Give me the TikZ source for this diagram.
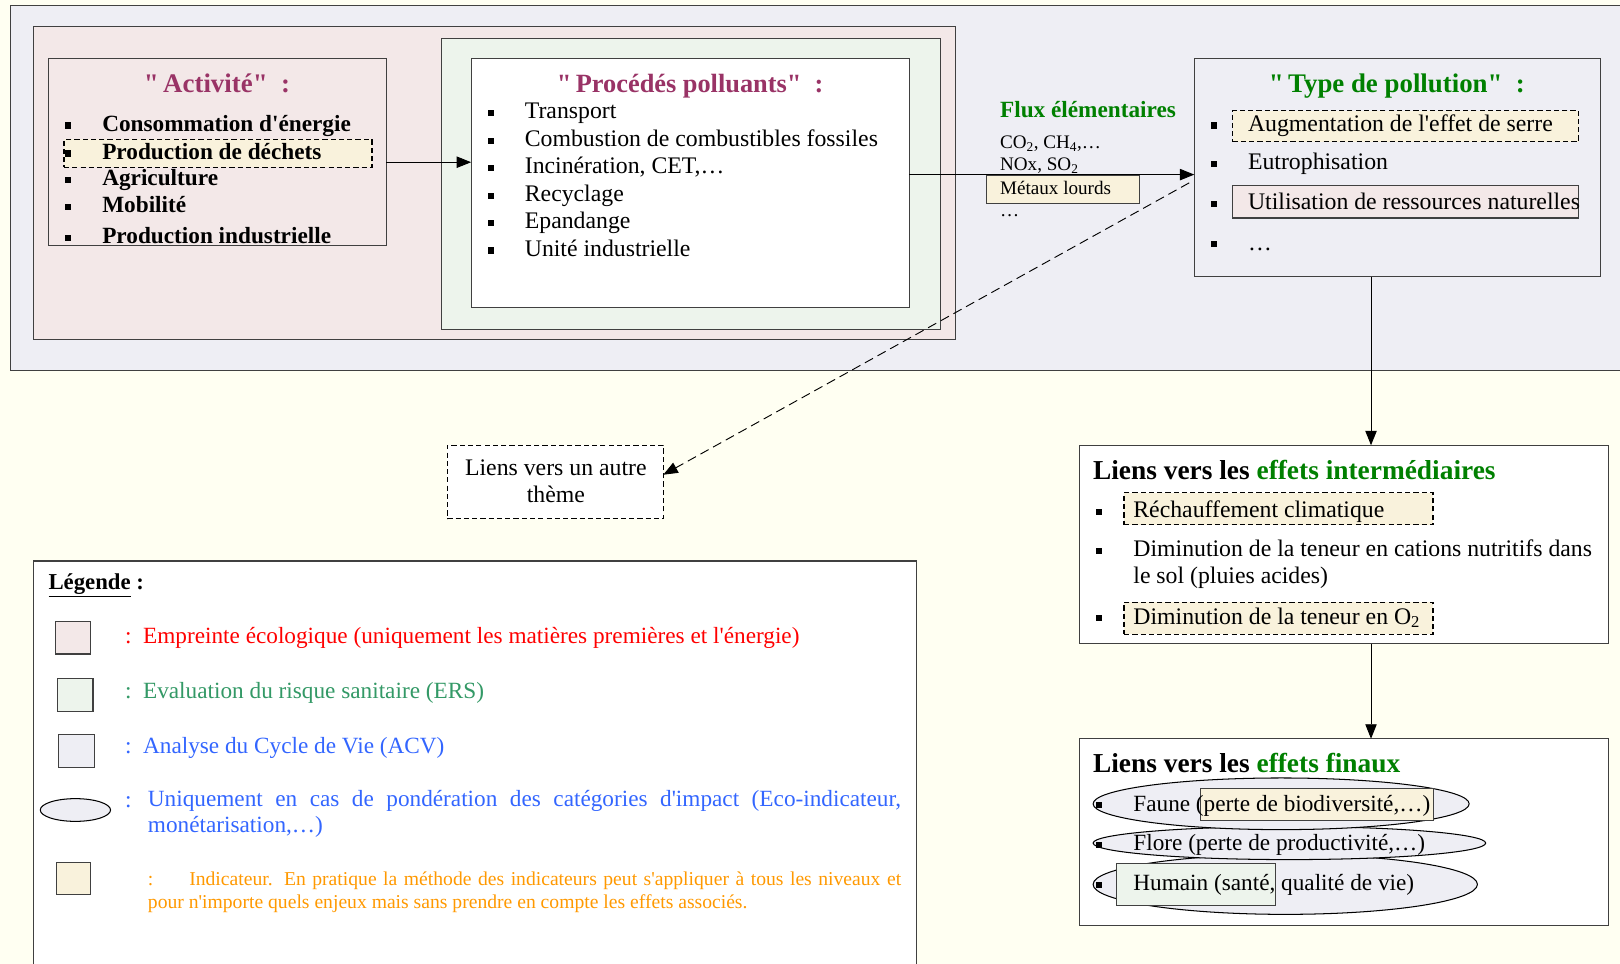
\documentclass[tikz,border=0pt]{standalone}
\usepackage{fontspec}
\setmainfont{Liberation Serif}[Ligatures=TeXOff]
\usetikzlibrary{arrows.meta,shapes.geometric}
\definecolor{bgcol}{HTML}{FFFFF2}
\definecolor{acvcol}{HTML}{EEEEF4}
\definecolor{pinkcol}{HTML}{F3E8E8}
\definecolor{greencol}{HTML}{EDF4EC}
\definecolor{yelcol}{HTML}{F9F2DC}
\definecolor{plum}{HTML}{993366}
\definecolor{dgreen}{HTML}{008000}
\definecolor{lgreen}{HTML}{339966}
\definecolor{lblue}{HTML}{3366FF}
\definecolor{lorange}{HTML}{FF9900}
\newcommand{\blsq}{\raisebox{2.5pt}{\rule{6pt}{6pt}}}
\newcommand{\fsz}[1]{\fontsize{#1}{#1}\selectfont}
\newcommand{\qq}{\symbol{34}}
\tikzset{
  box/.style={draw=black!75, line width=1pt, anchor=north west, inner sep=0pt, outer sep=0pt},
  dbox/.style={box, dash pattern=on 5pt off 3pt, line width=1.2pt, draw=black},
  txt/.style={anchor=base west, inner sep=0pt, outer sep=0pt},
  ctxt/.style={anchor=base, inner sep=0pt, outer sep=0pt},
  arr/.style={line width=0.9pt, -{Triangle[length=14pt,width=11pt]}},
}
\begin{document}
\begin{tikzpicture}[x=1pt,y=-1pt]
\useasboundingbox (0,0) rectangle (1568,933);
\clip (0,0) rectangle (1568,933);
\fill[bgcol] (0,0) rectangle (1568,933);

% ACV big box (open to the right)
\node[box, fill=acvcol, minimum width=1600pt, minimum height=354pt] (acv) at (10,5) {};
% Empreinte box
\node[box, fill=pinkcol, minimum width=893pt, minimum height=303pt] (emp) at (32,26) {};
% Activite box
\node[box, fill=pinkcol, minimum width=327pt, minimum height=181pt] (act) at (47,57) {};
% ERS box
\node[box, fill=greencol, minimum width=483pt, minimum height=282pt] (ers) at (427,37) {};
% Procedes box
\node[box, fill=white, minimum width=424pt, minimum height=241pt] (proc) at (456,57) {};
% Type box
\node[box, fill=acvcol, minimum width=393pt, minimum height=211pt] (tp) at (1156,57) {};

% Activite content
\node[ctxt, text=plum, font=\fsz{26}\bfseries] (acttitle) at (210,90) {\qq\,Activité\qq\ \ :};
\node[dbox, fill=yelcol, minimum width=298pt, minimum height=27pt] (hl1) at (62,135) {};
\begin{scope}
\clip (47,57) rectangle (374,238);
\node[txt, font=\fsz{22.5}\bfseries] (a1) at (63,127) {\makebox[36pt][l]{\blsq}Consommation d'énergie};
\node[txt, font=\fsz{22.5}\bfseries] (a2) at (63,154) {\makebox[36pt][l]{\blsq}Production de déchets};
\node[txt, font=\fsz{22.5}\bfseries] (a3) at (63,180) {\makebox[36pt][l]{\blsq}Agriculture};
\node[txt, font=\fsz{22.5}\bfseries] (a4) at (63,206) {\makebox[36pt][l]{\blsq}Mobilité};
\node[txt, font=\fsz{22.5}\bfseries] (a5) at (63,235.5) {\makebox[36pt][l]{\blsq}Production industrielle};
\end{scope}

% Procedes content
\node[ctxt, text=plum, font=\fsz{25.5}\bfseries] (proctitle) at (668,90) {\qq\,Procédés polluants\qq\ \ :};
\node[txt, font=\fsz{23}] (p1) at (472,115) {\makebox[36pt][l]{\blsq}Transport};
\node[txt, font=\fsz{23}] (p2) at (472,142) {\makebox[36pt][l]{\blsq}Combustion de combustibles fossiles};
\node[txt, font=\fsz{23}] (p3) at (472,168) {\makebox[36pt][l]{\blsq}Incinération, CET,\dots};
\node[txt, font=\fsz{23}] (p4) at (472,195) {\makebox[36pt][l]{\blsq}Recyclage};
\node[txt, font=\fsz{23}] (p5) at (472,221) {\makebox[36pt][l]{\blsq}Epandange};
\node[txt, font=\fsz{23}] (p6) at (472,248) {\makebox[36pt][l]{\blsq}Unité industrielle};

% Flux
\node[txt, text=dgreen, font=\fsz{22.5}\bfseries] (flux) at (968,114) {Flux élémentaires};
\node[txt, font=\fsz{18.5}] (f1) at (968,144) {CO\textsubscript{2}, CH\textsubscript{4},\dots};
\node[txt, font=\fsz{18.5}] (f2) at (968,165) {NOx, SO\textsubscript{2}};
\node[box, fill=yelcol, minimum width=148pt, minimum height=27pt] (met) at (955,170) {};
\node[txt, font=\fsz{18.5}] (f3) at (968,188) {Métaux lourds};
\node[txt, font=\fsz{18.5}] (f4) at (968,210) {\dots};

% Type content
\node[ctxt, text=dgreen, font=\fsz{26}\bfseries] (tptitle) at (1352,90) {\qq\,Type de pollution\qq\ \ :};
\node[dbox, fill=yelcol, minimum width=335pt, minimum height=30pt] (hl2) at (1193,107) {};
\node[box, fill=pinkcol, minimum width=335pt, minimum height=31pt] (hl3) at (1193,180) {};
\node[txt, font=\fsz{23}] (t1) at (1172,127) {\makebox[36pt][l]{\blsq}Augmentation de l'effet de serre};
\node[txt, font=\fsz{23}] (t2) at (1172,164) {\makebox[36pt][l]{\blsq}Eutrophisation};
\node[txt, font=\fsz{23}] (t3) at (1172,203) {\makebox[36pt][l]{\blsq}Utilisation de ressources naturelles};
\node[txt, font=\fsz{23}] (t4) at (1172,242) {\makebox[36pt][l]{\blsq}\dots};

% Liens vers un autre theme
\node[dbox, fill=white, minimum width=209pt, minimum height=71pt] (la) at (433,431) {};
\node[ctxt, font=\fsz{23}] (la1) at (538,460) {Liens vers un autre};
\node[ctxt, font=\fsz{23}] (la2) at (538,486) {thème};

% Effets intermediaires
\node[box, fill=white, minimum width=512pt, minimum height=192pt] (inter) at (1045,431) {};
\node[txt, font=\fsz{26.5}\bfseries] (it) at (1058,464) {Liens vers les \textcolor{dgreen}{effets intermédiaires}};
\node[dbox, fill=yelcol, minimum width=299pt, minimum height=31pt] (hl4) at (1088,477) {};
\node[dbox, fill=yelcol, minimum width=299pt, minimum height=31pt] (hl5) at (1088,583) {};
\node[txt, font=\fsz{23}] (i1) at (1061,501) {\makebox[36pt][l]{\blsq}Réchauffement climatique};
\node[txt, font=\fsz{23}] (i2) at (1061,539) {\makebox[36pt][l]{\blsq}Diminution de la teneur en cations nutritifs dans};
\node[txt, font=\fsz{23}] (i2b) at (1097,565) {le sol (pluies acides)};
\node[txt, font=\fsz{23}] (i3) at (1061,604) {\makebox[36pt][l]{\blsq}Diminution de la teneur en O\textsubscript{2}};

% Effets finaux
\node[box, fill=white, minimum width=512pt, minimum height=181pt] (fin) at (1045,715) {};
\node[txt, font=\fsz{26.5}\bfseries] (ft) at (1058,748) {Liens vers les \textcolor{dgreen}{effets finaux}};
\draw[fill=acvcol, line width=1pt] (1244,856) ellipse [x radius=186, y radius=29];
\draw[fill=acvcol, line width=1pt] (1248,816) ellipse [x radius=190, y radius=16];
\draw[fill=acvcol, line width=1pt] (1240,778) ellipse [x radius=182, y radius=25];
\node[box, fill=yelcol, minimum width=225pt, minimum height=31pt] (hl6) at (1162,763) {};
\node[box, fill=greencol, minimum width=154pt, minimum height=40pt] (hl7) at (1081,836) {};
\node[txt, font=\fsz{22.5}] (e1) at (1061,785) {\makebox[36pt][l]{\blsq}Faune (perte de biodiversité,\dots)};
\node[txt, font=\fsz{22.5}] (e2) at (1061,823) {\makebox[36pt][l]{\blsq}Flore (perte de productivité,\dots)};
\node[txt, font=\fsz{22.5}] (e3) at (1061,862) {\makebox[36pt][l]{\blsq}Humain (santé, qualité de vie)};

% Legend
\node[box, fill=white, minimum width=855pt, minimum height=440pt] (leg) at (32,543) {};
\node[txt, font=\fsz{22}\bfseries] (lt) at (47,571) {\underline{Légende} :};
\node[box, fill=pinkcol, minimum width=34pt, minimum height=31pt] (s1) at (54,602) {};
\node[box, fill=greencol, minimum width=34pt, minimum height=32pt] (s2) at (56,657) {};
\node[box, fill=acvcol, minimum width=34pt, minimum height=32pt] (s3) at (57,711) {};
\draw[fill=acvcol, line width=1pt] (73,784) ellipse [x radius=34, y radius=11];
\node[box, fill=yelcol, minimum width=33pt, minimum height=31pt] (s5) at (55,835) {};
\node[txt, text=red, font=\fsz{22.5}] (l1) at (121,623) {:\ \ Empreinte écologique (uniquement les matières premières et l'énergie)};
\node[txt, text=lgreen, font=\fsz{22.5}] (l2) at (121,676) {:\ \ Evaluation du risque sanitaire (ERS)};
\node[txt, text=lblue, font=\fsz{22.5}] (l3) at (121,729) {:\ \ Analyse du Cycle de Vie (ACV)};
\node[txt, text=lblue, font=\fsz{22.5}] (l4c) at (121,782) {:};
\node[anchor=north west, inner sep=0pt, text width=729pt, align=justify, text=lblue, font=\fontsize{22.5}{25}\selectfont] (l4) at (143,765) {Uniquement en cas de pondération des catégories d'impact (Eco-indicateur, \mbox{monétarisation,\dots)}};
\node[anchor=north west, inner sep=0pt, text width=729pt, align=justify, text=lorange, font=\fontsize{19}{22}\selectfont] (l5) at (143,844) {\makebox[40pt][l]{:}Indicateur. En pratique la méthode des indicateurs peut s'appliquer à tous les niveaux et pour n'importe quels enjeux mais sans prendre en compte les effets associés.};

% Connectors
\draw[arr] ([yshift=-9.5pt]act.east) -- ([yshift=20.5pt]proc.west);
\draw[arr] ([yshift=8.5pt]proc.east) -- ([yshift=-6.5pt]tp.west);
\coordinate (dstart) at (1151,177);
\draw[arr, dash pattern=on 9pt off 5pt] (dstart) -- ([yshift=7pt]la.east);
\draw[arr] ([xshift=-25.5pt]tp.south) -- ([xshift=26pt]inter.north);
\draw[arr] ([xshift=26pt]inter.south) -- ([xshift=26pt]fin.north);
\end{tikzpicture}
\end{document}
